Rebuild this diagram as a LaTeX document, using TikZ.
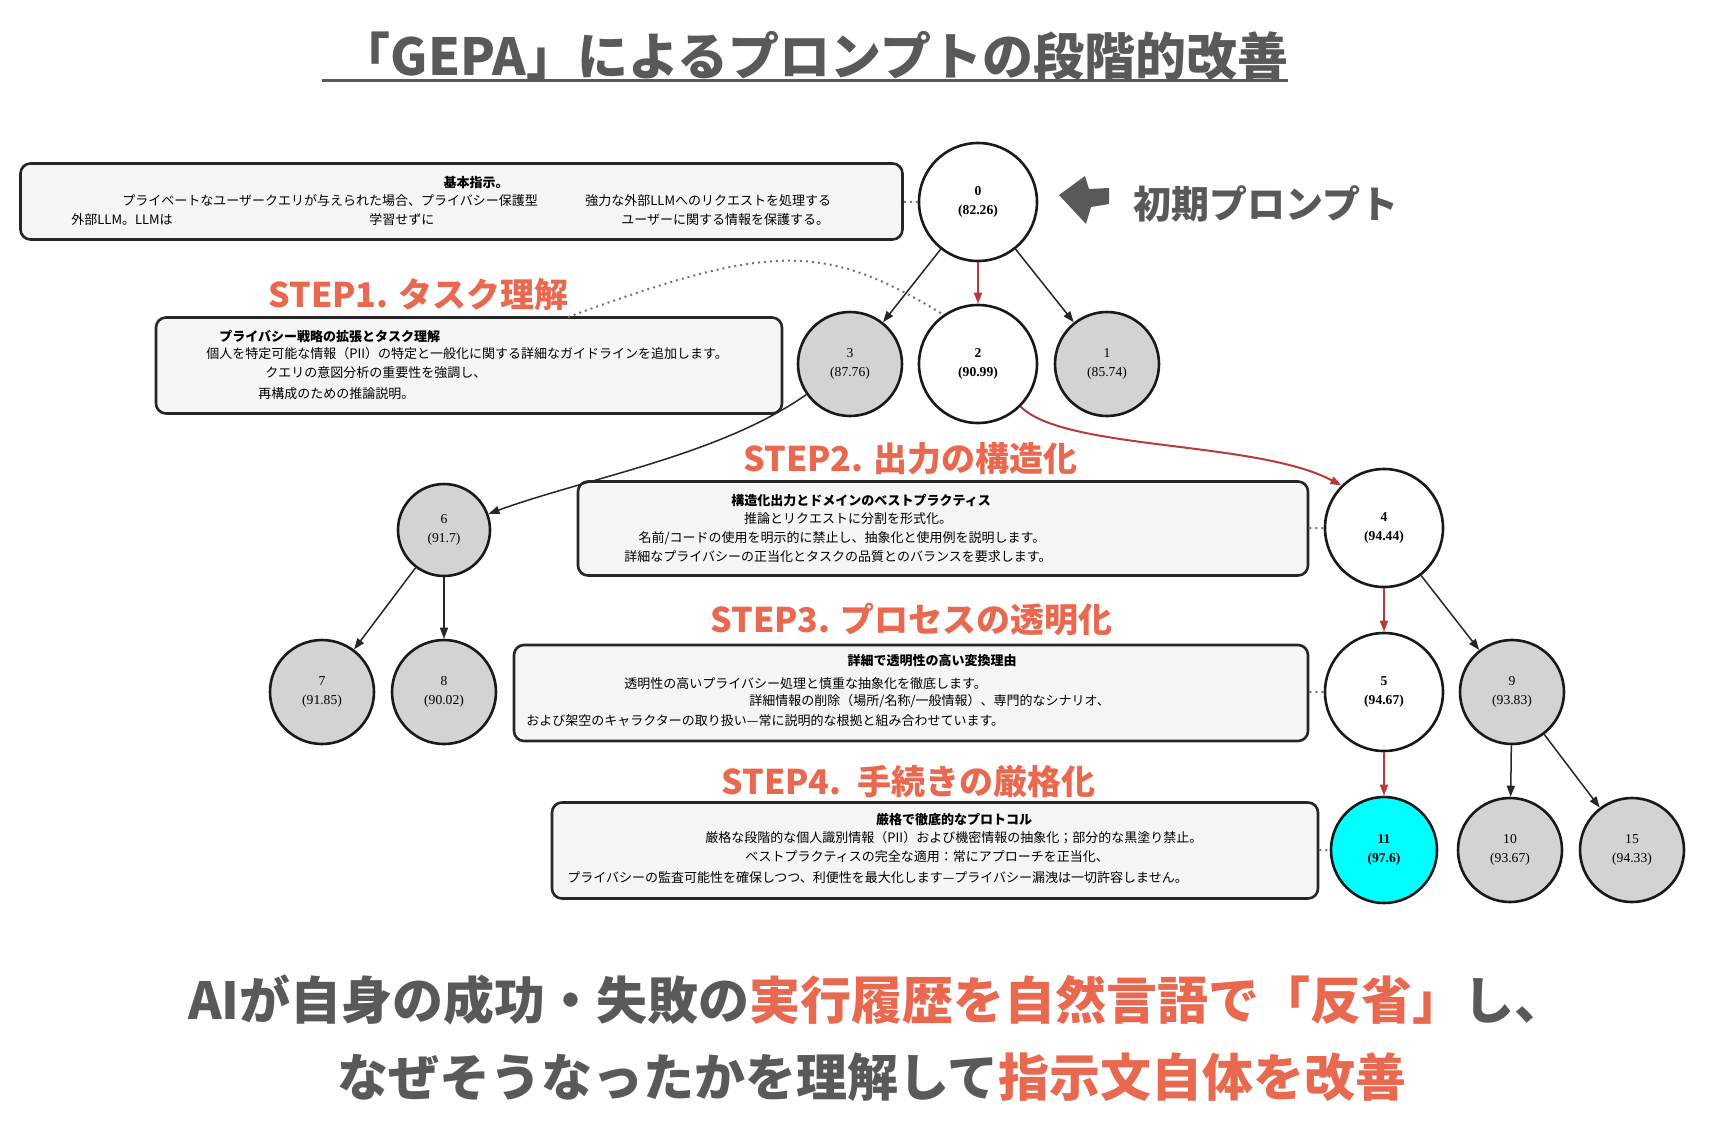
\documentclass[tikz,border=0pt]{standalone}
\usepackage{fontspec}
\usepackage{xcolor}
\usetikzlibrary{positioning, arrows.meta, calc}
\newfontfamily\jpfont{Noto Sans CJK JP}
\newfontfamily\numfont{Liberation Serif}
\definecolor{titlegray}{HTML}{595959}
\definecolor{stepcoral}{HTML}{E8694F}
\definecolor{bestred}{HTML}{B83A3A}
\definecolor{boxfill}{HTML}{F5F5F5}
\definecolor{nodegray}{HTML}{D3D3D3}
\definecolor{bestcyan}{HTML}{00FFFF}

\begin{document}
\begin{tikzpicture}[
    x=0.5pt, y=-0.5pt,
    prompt/.style={draw=black!85, line width=1.3pt, rounded corners=5pt, fill=boxfill, inner sep=0pt},
    cand/.style={circle, draw=black!90, line width=1.3pt, fill=nodegray, inner sep=0pt, minimum size=52pt, align=center, font=\numfont\fontsize{6.8}{9.5}\selectfont},
    best/.style={cand, fill=white, minimum size=59pt, font=\numfont\bfseries\fontsize{6.8}{9.5}\selectfont},
    txtline/.style={anchor=west, inner sep=0pt, font=\jpfont\fontsize{6.5}{8}\selectfont},
    boxhead/.style={inner sep=0pt, font=\jpfont\bfseries\fontsize{6.5}{8}\selectfont},
    steplabel/.style={anchor=west, inner sep=0pt, text=stepcoral, font=\jpfont\bfseries\fontsize{17}{20}\selectfont},
    bigtext/.style={inner sep=0pt, text=titlegray, font=\jpfont\bfseries\fontsize{25.5}{30}\selectfont},
    tree/.style={-{Triangle[length=5.5pt, width=4pt]}, line width=0.75pt, black!85},
    better/.style={tree, bestred, line width=1pt},
    memo/.style={dotted, line width=1pt, black!55}
]
    \useasboundingbox (0,0) rectangle (1714,1136);

    % Title
    \node[bigtext] (title) at (814,56) {「GEPA」によるプロンプトの段階的改善};
    \draw[titlegray, line width=1.5pt] (322,80) -- (1288,80);

    % Candidate tree
    \node[best] (n0) at (978,202) {0\\(82.26)};
    \node[cand] (n3) at (850,364) {3\\(87.76)};
    \node[best] (n2) at (978,364) {2\\(90.99)};
    \node[cand] (n1) at (1107,364) {1\\(85.74)};
    \node[cand, minimum size=46pt] (n6) at (444,530) {6\\(91.7)};
    \node[best] (n4) at (1384,528) {4\\(94.44)};
    \node[cand] (n7) at (322,692) {7\\(91.85)};
    \node[cand] (n8) at (444,692) {8\\(90.02)};
    \node[best] (n5) at (1384,692) {5\\(94.67)};
    \node[cand] (n9) at (1512,692) {9\\(93.83)};
    \node[best, fill=bestcyan, minimum size=53pt] (n11) at (1384,850) {11\\(97.6)};
    \node[cand] (n10) at (1510,850) {10\\(93.67)};
    \node[cand] (n15) at (1632,850) {15\\(94.33)};

    % Initial prompt marker
    \fill[titlegray] (1059,195) -- (1085,176) -- (1089,189) -- (1109,188) -- (1109,204) -- (1091,207) -- (1086,224) -- cycle;
    \node[anchor=west, inner sep=0pt, text=titlegray, font=\jpfont\bfseries\fontsize{19}{22}\selectfont] (initlabel) at (1133,204) {初期プロンプト};

    % Prompt boxes
    \node[prompt, minimum width=441pt, minimum height=38pt] (b0) at (461.5,201.5) {};
    \node[boxhead] (b0h) at (476,183) {基本指示。};
    \node[txtline] (b0a) at (122,201) {プライベートなユーザークエリが与えられた場合、プライバシー保護型};
    \node[txtline] (b0b) at (585,201) {強力な外部LLMへのリクエストを処理する};
    \node[txtline] (b0c) at (71,220) {外部LLM。LLMは};
    \node[txtline] (b0d) at (369,220) {学習せずに};
    \node[txtline] (b0e) at (621,220) {ユーザーに関する情報を保護する。};

    \node[prompt, minimum width=313pt, minimum height=48pt] (b1) at (469,365.5) {};
    \node[boxhead, anchor=west] (b1h) at (219,337) {プライバシー戦略の拡張とタスク理解};
    \node[txtline] (b1a) at (206,354) {個人を特定可能な情報（PII）の特定と一般化に関する詳細なガイドラインを追加します。};
    \node[txtline] (b1b) at (265,373) {クエリの意図分析の重要性を強調し、};
    \node[txtline] (b1c) at (258,394) {再構成のための推論説明。};

    \node[prompt, minimum width=365pt, minimum height=47pt] (b2) at (943,528.5) {};
    \node[boxhead] (b2h) at (861,501) {構造化出力とドメインのベストプラクティス};
    \node[txtline, anchor=center] (b2a) at (848,519) {推論とリクエストに分割を形式化。};
    \node[txtline, anchor=center] (b2b) at (842,538) {名前/コードの使用を明示的に禁止し、抽象化と使用例を説明します。};
    \node[txtline, anchor=center] (b2c) at (838,557) {詳細なプライバシーの正当化とタスクの品質とのバランスを要求します。};

    \node[prompt, minimum width=397pt, minimum height=48pt] (b3) at (911,693) {};
    \node[boxhead] (b3h) at (932,661) {詳細で透明性の高い変換理由};
    \node[txtline] (b3a) at (624,684) {透明性の高いプライバシー処理と慎重な抽象化を徹底します。};
    \node[txtline] (b3b) at (749,701) {詳細情報の削除（場所/名称/一般情報）、専門的なシナリオ、};
    \node[txtline] (b3c) at (526,721) {および架空のキャラクターの取り扱い—常に説明的な根拠と組み合わせています。};

    \node[prompt, minimum width=383pt, minimum height=48pt] (b4) at (935,850.5) {};
    \node[boxhead] (b4h) at (954,820) {厳格で徹底的なプロトコル};
    \node[txtline] (b4a) at (705,838) {厳格な段階的な個人識別情報（PII）および機密情報の抽象化；部分的な黒塗り禁止。};
    \node[txtline] (b4b) at (745,857) {ベストプラクティスの完全な適用：常にアプローチを正当化、};
    \node[txtline] (b4c) at (567,878) {プライバシーの監査可能性を確保しつつ、利便性を最大化します—プライバシー漏洩は一切許容しません。};

    % Step labels
    \node[steplabel] (step1) at (268,295) {STEP1. タスク理解};
    \node[steplabel] (step2) at (743,459) {STEP2. 出力の構造化};
    \node[steplabel] (step3) at (710,620) {STEP3. プロセスの透明化};
    \node[steplabel] (step4) at (721,782) {STEP4.\ \ 手続きの厳格化};

    % Box to node links
    \draw[memo] (b0) -- (n0);
    \coordinate (b1top) at (568,317);
    \draw[memo] (b1top) .. controls +(203,-74) and +(-120,-73) .. (n2.125);
    \draw[memo] (b2) -- (n4);
    \draw[memo] (b3) -- (n5);
    \draw[memo] (b4) -- (n11);

    % Edges
    \draw[tree] (n0) -- (n3);
    \draw[better] (n0) -- (n2);
    \draw[tree] (n0) -- (n1);
    \draw[tree] (n3) to[out=-145, in=20, looseness=0.8] (n6);
    \draw[better] (n2.-45) .. controls +(44,44) and +(-85,-45) .. (n4.135);
    \draw[tree] (n6) -- (n7);
    \draw[tree] (n6) -- (n8);
    \draw[better] (n4) -- (n5);
    \draw[tree] (n4) -- (n9);
    \draw[better] (n5) -- (n11);
    \draw[tree] (n9) -- (n10);
    \draw[tree] (n9) -- (n15);

    % Summary
    \node[bigtext] (sum1) at (877,1000) {AIが自身の成功・失敗の\textcolor{stepcoral}{実行履歴を自然言語で「反省」}し、};
    \node[bigtext] (sum2) at (872,1077) {なぜそうなったかを理解して\textcolor{stepcoral}{指示文自体を改善}};
\end{tikzpicture}
\end{document}
